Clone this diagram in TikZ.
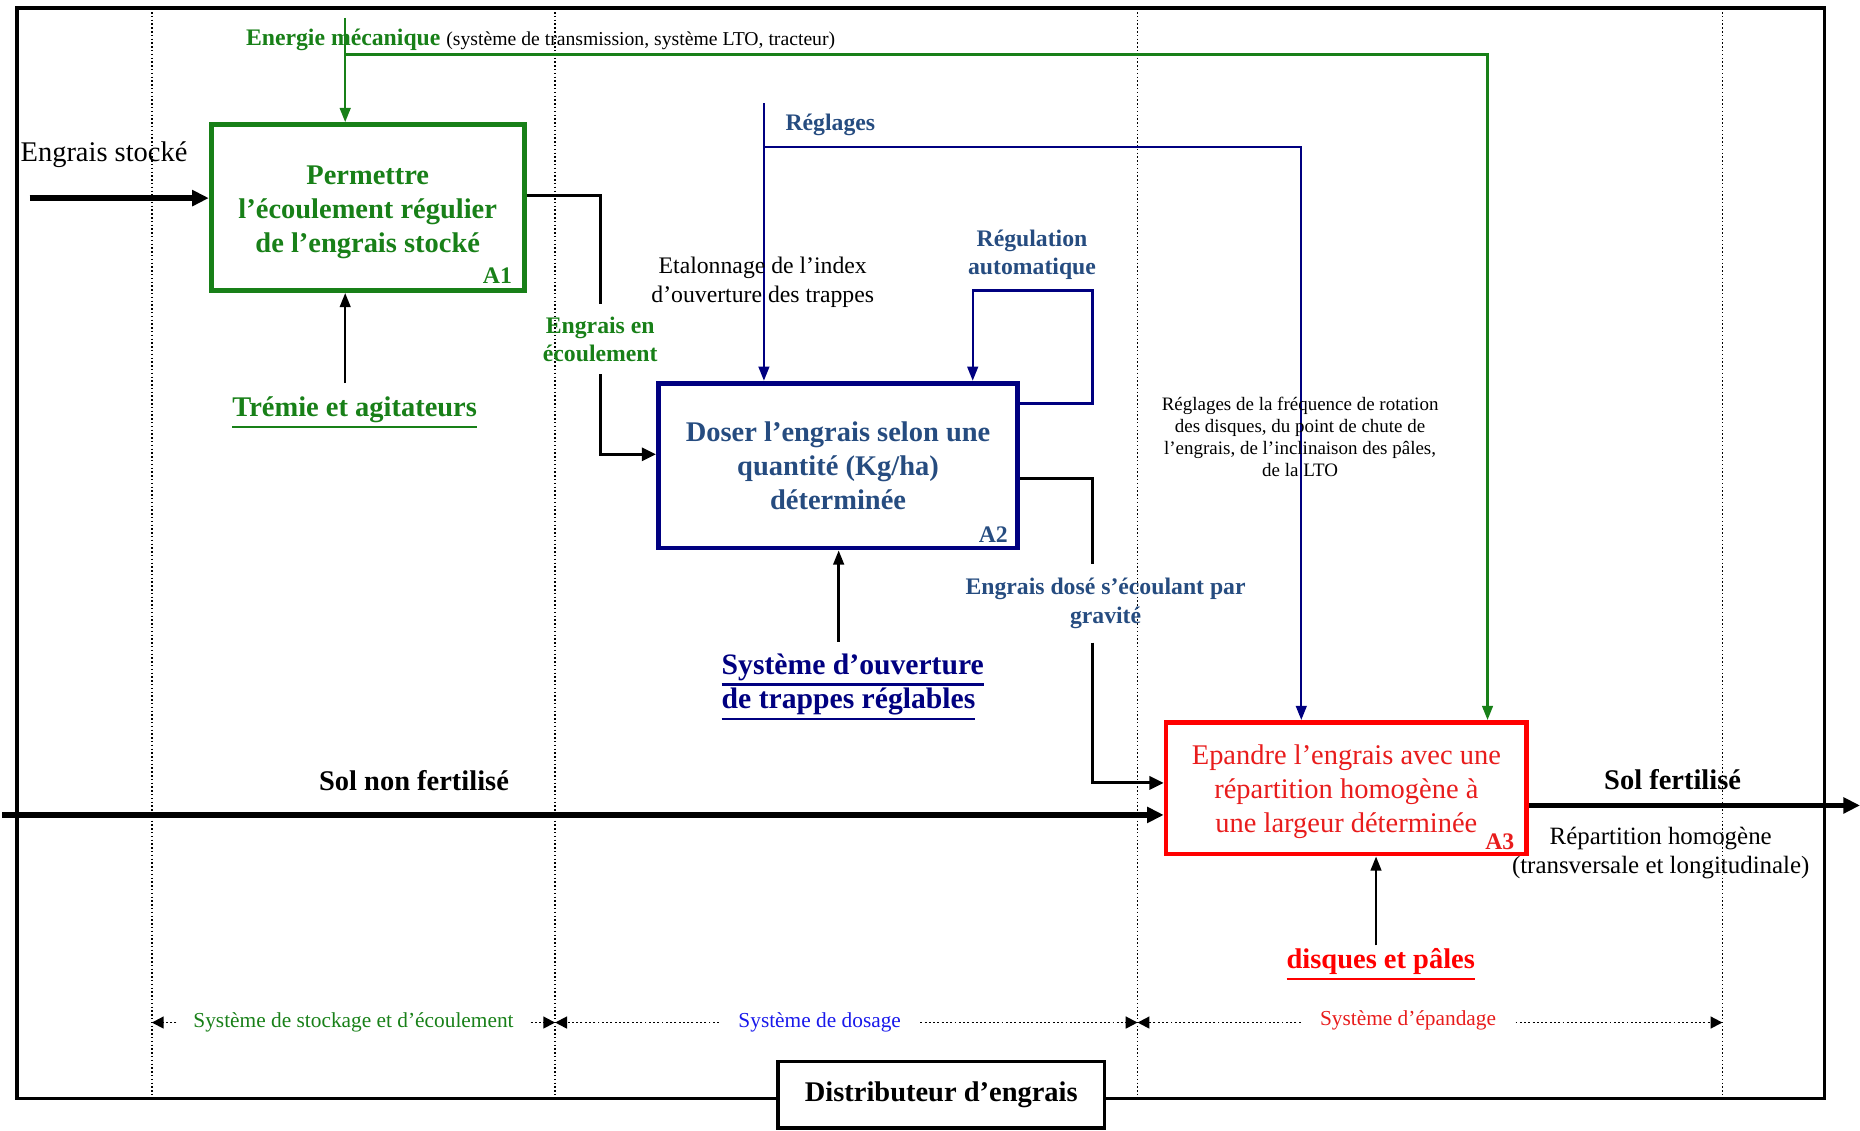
\documentclass[tikz,border=0pt]{standalone}
\usepackage{fontspec}
\setmainfont{Liberation Serif}
\usetikzlibrary{arrows.meta}
\definecolor{vert}{RGB}{24,128,24}
\definecolor{marine}{RGB}{0,0,128}
\definecolor{bleutxt}{RGB}{38,76,128}
\definecolor{rouge}{RGB}{255,0,0}
\definecolor{rougetxt}{RGB}{232,28,28}
\definecolor{bleuvif}{RGB}{25,25,235}
\newcommand{\taille}[2]{\fontsize{#1}{#2}\selectfont}
\newcommand{\souligne}[1]{\vtop{\hbox{#1}\kern1.2pt\hrule height 1pt}}
\begin{document}
\begin{tikzpicture}[x=0.5pt,y=-0.5pt,
    boite/.style={draw=#1,line width=2pt,align=center,inner sep=2pt},
    etiq/.style={align=center,inner sep=1pt},
    code/.style={font=\bfseries\taille{10}{12},inner sep=0pt,anchor=south east},
    trait/.style={line width=1.3pt},
    traitf/.style={line width=1.3pt,-{Triangle[length=6pt,width=5.5pt]}},
    fleche/.style={line width=1pt,-{Triangle[length=6pt,width=4.5pt]}},
    grosse/.style={line width=2.2pt,-{Triangle[length=7pt,width=6.5pt]}},
    cote/.style={densely dotted,line width=0.8pt,-{Triangle[length=5pt,width=5pt]}},
    pointille/.style={densely dotted,line width=0.6pt}]
  \useasboundingbox (0,0) rectangle (1568,953);

  % cadre et zones
  \draw[line width=1.6pt] (14,7) rectangle (1538,926);
  \foreach \x/\n in {128/v1,468/v2,959/v3,1452/v4} {
    \draw[pointille] (\x,7) -- (\x,926);
    \coordinate (\n) at (\x,0);
  }

  % activites
  \node[boite=vert,minimum width=132pt,minimum height=70pt,text=vert,
    font=\bfseries\taille{12}{14.3}] (A1) at (310,175)
    {\rule{0pt}{12pt}Permettre\\l’écoulement régulier\\de l’engrais stocké};
  \node[boite=marine,minimum width=151.5pt,minimum height=69.5pt,text=bleutxt,
    font=\bfseries\taille{12}{14.3}] (A2) at (706.5,392.5)
    {Doser l’engrais selon une\\quantité (Kg/ha)\\déterminée};
  \node[boite=rouge,minimum width=152pt,minimum height=55.5pt,text=rougetxt,
    font=\taille{12}{14.3}] (A3) at (1135,664.5)
    {\rule{0pt}{11.5pt}Epandre l’engrais avec une\\répartition homogène à\\une largeur déterminée};
  \node[code,text=vert] (n1) at ([shift={(-6pt,4pt)}]A1.south east) {A1};
  \node[code,text=bleutxt] (n2) at ([shift={(-5pt,3pt)}]A2.south east) {A2};
  \node[code,text=rougetxt] (n3) at ([shift={(-6pt,2.5pt)}]A3.south east) {A3};

  % entrees
  \node[etiq,anchor=west,font=\taille{12}{14}] (stocktxt) at (15,130) {Engrais stocké};
  \coordinate (stock) at (25,167);
  \draw[grosse] (stock) -- (stock -| A1.west);

  \node[etiq,text=vert,font=\bfseries\taille{10}{12},inner ysep=5pt] (ecoul) at (506,286)
    {Engrais en\\écoulement};
  \draw[trait] ([yshift=5pt]A1.east) -| (ecoul.north);
  \draw[traitf] (ecoul.south) |- ([yshift=4.75pt]A2.west);

  \node[etiq,text=bleutxt,font=\bfseries\taille{10}{12.5},inner ysep=5.6pt] (dose) at (932,508.5)
    {Engrais dosé s’écoulant par\\gravité};
  \coordinate (boucle) at (921,245);
  \draw[trait] ([yshift=-5.25pt]A2.east) -| (dose.north -| boucle);
  \draw[traitf] (dose.south -| boucle) |- ([yshift=2.25pt]A3.west);

  \node[etiq,font=\bfseries\taille{12}{14}] (soltxt) at (349,658) {Sol non fertilisé};
  \coordinate (sol) at (2,687);
  \draw[grosse] (sol) -- (sol -| A3.west);

  % sortie
  \node[etiq,font=\bfseries\taille{12}{14}] (solftxt) at (1410,657) {Sol fertilisé};
  \coordinate (solf) at (1568,679);
  \draw[grosse] (A3.east |- solf) -- (solf);
  \node[etiq,font=\taille{10.5}{12.5}] (repart) at (1400,719)
    {Répartition homogène\\(transversale et longitudinale)};

  % controles
  \node[etiq,text=vert,anchor=base west,inner sep=0pt,font=\bfseries\taille{10}{12}] (nrjtxt) at (207,38)
    {Energie mécanique {\mdseries\taille{8.3}{10}\color{black}(système de transmission, système LTO, tracteur)}};
  \coordinate (nrj) at (291,15);
  \draw[fleche,vert] (nrj) -- (nrj |- A1.north);
  \coordinate (nrj1) at (291,46);
  \coordinate (nrj3) at (1254,46);
  \draw[fleche,vert] (nrj1) -- (nrj3) -- (nrj3 |- A3.north);

  \node[etiq,text=bleutxt,font=\bfseries\taille{10}{12}] (regltxt) at (700,105) {Réglages};
  \coordinate (regl) at (644,87);
  \draw[fleche,marine] (regl) -- (regl |- A2.north);
  \coordinate (regl1) at (644,124);
  \coordinate (regl3) at (1097,124);
  \draw[fleche,marine] (regl1) -- (regl3) -- (regl3 |- A3.north);

  \node[etiq,font=\taille{10}{12.5}] (etal) at (643,238)
    {Etalonnage de l’index\\d’ouverture des trappes};
  \node[etiq,text=bleutxt,font=\bfseries\taille{10}{12}] (regul) at (870,215)
    {Régulation\\automatique};
  \draw[fleche,marine] ([yshift=-9.5pt]A2.north east) -| (boucle) -| ([xshift=56.75pt]A2.north);

  \node[etiq,font=\taille{8}{9.3}] (freq) at (1096,368)
    {Réglages de la fréquence de rotation\\des disques, du point de chute de\\l’engrais, de l’inclinaison des pâles,\\de la LTO};

  % mecanismes
  \node[etiq,text=vert,font=\bfseries\taille{12}{14}] (tremie) at (299,348)
    {\souligne{Trémie et agitateurs}};
  \coordinate (trem) at (291,323);
  \draw[fleche] (trem) -- (trem |- A1.south);

  \node[etiq,anchor=west,align=left,text=marine,font=\bfseries\taille{12.5}{14.5}] (ouvtxt) at (606,579)
    {\souligne{Système d’ouverture}\\\souligne{de trappes réglables}};
  \coordinate (ouv) at (707,541);
  \draw[fleche] (ouv) -- (ouv |- A2.south);

  \node[etiq,text=rouge,font=\bfseries\taille{12}{14}] (disques) at (1164,813)
    {\souligne{disques et pâles}};
  \coordinate (disq) at (1160,797);
  \draw[fleche] (disq) -- (disq |- A3.south);

  % systemes
  \node[etiq,inner xsep=7pt,text=vert,font=\taille{9}{11}] (stockage) at (298,862)
    {Système de stockage et d’écoulement};
  \node[etiq,inner xsep=8pt,text=bleuvif,font=\taille{9}{11}] (dosage) at (691,862)
    {Système de dosage};
  \node[etiq,inner xsep=8pt,text=rougetxt,font=\taille{9}{11}] (epandage) at (1187,860)
    {Système d’épandage};
  \draw[cote] (stockage.west) -- (stockage.west -| v1);
  \draw[cote] (stockage.east) -- (stockage.east -| v2);
  \draw[cote] (dosage.west) -- (dosage.west -| v2);
  \draw[cote] (dosage.east) -- (dosage.east -| v3);
  \draw[cote] (epandage.west |- dosage) -- (dosage -| v3);
  \draw[cote] (epandage.east |- dosage) -- (dosage -| v4);

  \node[draw,line width=1.5pt,fill=white,minimum width=137.5pt,minimum height=28pt,
    font=\bfseries\taille{12}{14}] (distrib) at (793.5,923) {Distributeur d’engrais};
\end{tikzpicture}
\end{document}
